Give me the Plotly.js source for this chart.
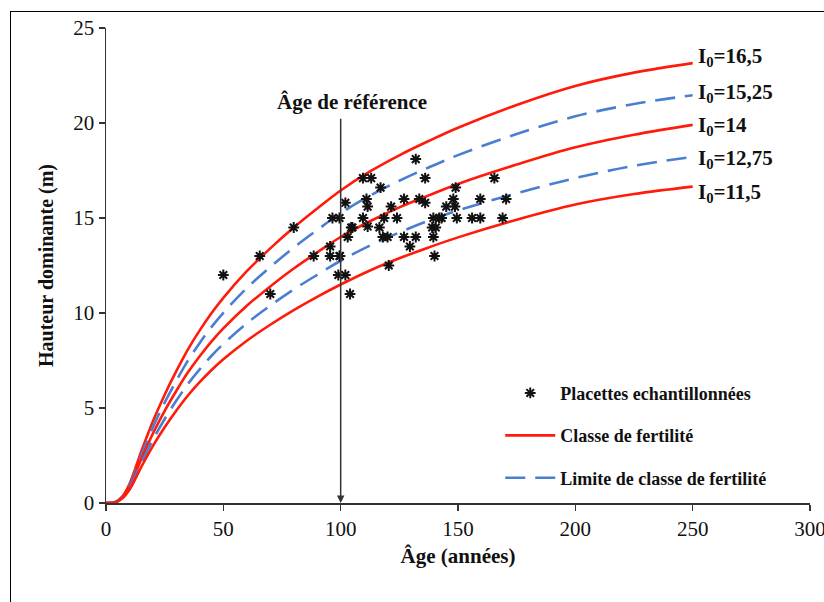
<!DOCTYPE html>
<html><head><meta charset="utf-8">
<script src="https://cdn.plot.ly/plotly-3.0.1.min.js"></script>
<style>
html,body{margin:0;padding:0;background:#fff;overflow:hidden;width:824px;height:602px;}
#chart{position:absolute;left:0;top:0;width:824px;height:602px;}
#frame{position:absolute;left:10px;top:11px;width:840px;height:640px;border-left:1.5px solid #000;border-top:1.5px solid #000;pointer-events:none;z-index:10;}
</style>
</head><body>
<div id="chart"></div><div id="frame"></div>
<script>
// Curve ages (années)
const ages = [0,4,7,10,15,20,25,30,35,40,45,50,60,70,80,90,100,112.5,125,137.5,150,175,200,225,250];
// Heights for each site index I0
const h_16_5  = [0,0.05,0.35,1.0,2.7,4.3,5.7,6.95,8.1,9.1,10.0,10.8,12.2,13.4,14.5,15.5,16.45,17.45,18.3,19.05,19.75,20.95,21.95,22.65,23.15];
const h_15_25 = [0,0.05,0.32,0.93,2.5,3.99,5.28,6.44,7.51,8.44,9.27,10.01,11.31,12.42,13.44,14.37,15.25,16.18,16.96,17.66,18.31,19.42,20.35,21.0,21.46];
const h_14    = [0,0.04,0.3,0.85,2.3,3.66,4.85,5.91,6.89,7.74,8.51,9.19,10.38,11.4,12.34,13.19,14.0,14.83,15.56,16.19,16.79,17.81,18.72,19.38,19.9];
const h_12_75 = [0,0.04,0.27,0.78,2.09,3.33,4.42,5.39,6.28,7.05,7.75,8.37,9.46,10.39,11.24,12.01,12.75,13.55,14.24,14.86,15.4,16.3,17.1,17.75,18.22];
const h_11_5  = [0,0.03,0.25,0.7,1.89,3.01,3.99,4.87,5.67,6.37,7.0,7.56,8.54,9.38,10.15,10.85,11.5,12.24,12.88,13.45,13.98,14.91,15.71,16.26,16.65];

// Sampled plots (placettes)
const plotAge = [50,65.5,80,70,88.5,95.5,95.5,99.5,96.5,99.5,102,99,102,104,104.5,103,
  109.5,113,117,111,111.5,109.5,111.5,116.5,118.5,121.5,124,118,120,127,132,136,133.5,136,
  127,129.5,132,139.5,142,139,140.5,139.5,140,149,148,145,148.7,149.5,156,159.5,159.5,165.5,
  170.5,169,120.5,143,105,99.7];
const plotH = [12,13,14.5,11,13,13.5,13,13,15,15,15.8,12,12,11,14.5,14,
  17.1,17.1,16.6,16,15.6,15,14.55,14.5,15,15.6,15,14,14,16,18.1,17.1,16,15.8,
  14,13.5,14,15,15,14.5,14.5,14,13,16.6,16,15.6,15.6,15,15,15,16,17.1,
  16,15,12.5,15,14.5,13];

const curveLabels = ['I<sub>0</sub>=16,5','I<sub>0</sub>=15,25','I<sub>0</sub>=14','I<sub>0</sub>=12,75','I<sub>0</sub>=11,5'];
const curveH = [h_16_5,h_15_25,h_14,h_12_75,h_11_5];
const curveLabelY = [23.45,21.6,19.85,18.1,16.3];

const RED = '#ff1a0a', BLUE = '#4a7ed0';
const traces = [];
curveH.forEach((h,i)=>{
  const isClass = (i % 2 === 0);
  traces.push({
    x: ages, y: h, mode:'lines', type:'scatter',
    name: isClass ? '<b>Classe de fertilité</b>' : '<b>Limite de classe de fertilité</b>',
    legendgroup: isClass ? 'c' : 'l',
    legendrank: isClass ? 2 : 3,
    showlegend: (i===0 || i===1),
    line: {color: isClass?RED:BLUE, width:2.6, shape:'spline', smoothing:1,
           dash: isClass?'solid':'20px,10px'},
    hoverinfo:'skip'
  });
});
traces.push({
  x: plotAge, y: plotH, mode:'markers', type:'scatter',
  name:'<b>Placettes echantillonnées</b>', legendgroup:'p', legendrank:1,
  marker:{symbol:'asterisk-open', size:9, color:'#111', line:{color:'#111', width:2}}
});

const serif = 'Liberation Serif, Times New Roman, serif';
const annotations = curveLabels.map((t,i)=>({
  x: 251.5, y: curveLabelY[i], xref:'x', yref:'y', text:'<b>'+t+'</b>', showarrow:false,
  xanchor:'left', yanchor:'middle', font:{family:serif, size:21, color:'#111'}
}));
annotations.push({
  x:100, y:0, ax:100, ay:20.3, xref:'x', yref:'y', axref:'x', ayref:'y', text:'',
  showarrow:true, arrowhead:2, arrowsize:1, arrowwidth:1.5, arrowcolor:'#333', standoff:0
});
annotations.push({
  x:105, y:21.1, xref:'x', yref:'y', text:'<b>Âge de référence</b>', showarrow:false,
  xanchor:'center', yanchor:'middle', font:{family:serif, size:21, color:'#111'}
});

const layout = {
  width:824, height:602,
  margin:{l:106, r:14, t:28, b:99},
  paper_bgcolor:'rgba(0,0,0,0)', plot_bgcolor:'#fff',
  font:{family:serif, color:'#111'},
  xaxis:{range:[0,300], tickvals:[0,50,100,150,200,250,300], showgrid:false, zeroline:false,
    showline:true, linecolor:'#333', linewidth:1.5, ticks:'outside', ticklen:6, tickcolor:'#333', tickwidth:1.5,
    tickfont:{family:serif, size:21, color:'#111'}, ticklabeloverflow:'allow',
    title:{text:'<b>Âge (années)</b>', font:{family:serif, size:21, color:'#111'}, standoff:8}},
  yaxis:{range:[0,25], tickvals:[0,5,10,15,20,25], showgrid:false, zeroline:false,
    showline:true, linecolor:'#333', linewidth:1.5, ticks:'outside', ticklen:6, tickcolor:'#333', tickwidth:1.5,
    tickfont:{family:serif, size:21, color:'#111'}, ticklabeloverflow:'allow',
    title:{text:'<b>Hauteur dominante (m)</b>', font:{family:serif, size:20, color:'#111'}, standoff:14}},
  showlegend:true,
  legend:{x:0.56, y:0.27, xanchor:'left', yanchor:'top', bgcolor:'rgba(0,0,0,0)',
    font:{family:serif, size:18, color:'#111'}, tracegroupgap:16, itemwidth:50,
    traceorder:'grouped'},
  annotations: annotations
};
Plotly.newPlot('chart', traces, layout, {staticPlot:true, displayModeBar:false});
</script>
</body></html>
